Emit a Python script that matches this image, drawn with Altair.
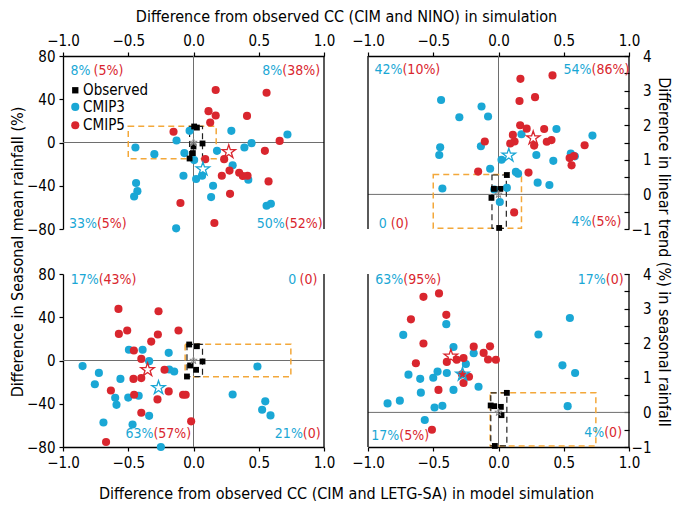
import altair as alt
import pandas as pd

FONT = "Liberation Sans Narrow, DejaVu Sans Condensed, Roboto, sans-serif"
CYAN = "#1aa7d5"
RED = "#d9262e"
ORANGE = "#f3a83a"
GREY = "#6e6e6e"
STAR = ("M0,-1L0.225,-0.309L0.951,-0.309L0.363,0.118L0.588,0.809L0,0.382"
        "L-0.588,0.809L-0.363,0.118L-0.951,-0.309L-0.225,-0.309Z")

# ---------------- axis ticks and titles ----------------
x_ticks = [-1.0, -0.5, 0.0, 0.5, 1.0]
rain_ticks = [-80, -40, 0, 40, 80]
trend_ticks = [-1, -0.5, 0, 0.5, 1, 1.5, 2, 2.5, 3, 3.5, 4]
title_top = "Difference from observed CC (CIM and NINO) in simulation"
title_bottom = "Difference from observed CC (CIM and LETG-SA) in model simulation"
title_left = "Difference in Seasonal mean rainfall (%)"
title_right = "Difference in linear trend (%) in seasonal rainfall"
legend_labels = ["Observed", "CMIP3", "CMIP5"]

# ---------------- top-left: CC (CIM & NINO) vs seasonal mean rainfall ----------------
tl_c3_x = [0.72, 0.29, 0.445, 0.39, 0.18, 0.30, 0.42, 0.15, 0.135, 0.066, 0.02, 0.005,
           -0.07, -0.13, -0.03, -0.077, -0.30, -0.445, -0.44, -0.43, -0.455, -0.133, 0.56, 0.593]
tl_c3_y = [7.4, 10.8, -0.6, -4.6, -7.7, -21, -34.5, -40, -50.5, -30.8, -33.8, -16.3,
           -9.8, 1.8, 10.8, -30.8, -10.8, -4.6, -37.5, -45, -50, -79.4, -58.5, -56.6]
tl_c5_x = [0.17, 0.56, 0.115, 0.17, 0.41, 0.128, -0.153, 0.66, 0.547, 0.235, 0.09, 0.276,
           0.217, 0.35, 0.378, 0.414, 0.575, 0.28, -0.10, 0.16]
tl_c5_y = [48.5, 46, 29, 25, 24.6, 18.5, 10, 1.5, -7.7, -15.4, -15.4, -26,
           -30.8, -28, -31, -30.8, -36, -47.5, -56, -74.5]
tl_obs_x = [0.005, 0.026, 0.069, 0.0, -0.005, -0.03]
tl_obs_y = [14.8, 13.8, -0.9, -3.7, -9.8, -14.8]
tl_star_x = [0.072, 0.27]
tl_star_y = [-24.6, -8.6]
tl_orange = [-0.5, 0.174, -15, 15]
tl_black = [-0.03, 0.069, -15, 15]
tl_ann_cyan = ["8%", "8%", "33%", "50%"]
tl_ann_red = ["(5%)", "(38%)", "(5%)", "(52%)"]

# ---------------- top-right: CC (CIM & NINO) vs linear trend ----------------
tr_c3_x = [-0.44, -0.13, -0.08, -0.30, 0.176, 0.444, 0.72, -0.447, -0.454, -0.135, 0.023, 0.29,
           0.42, 0.554, 0.585, -0.064, 0.133, 0.15, 0.30, 0.39, -0.43, -0.033, 0.064, 0.01]
tr_c3_y = [2.73, 2.54, 2.25, 2.23, 1.74, 1.89, 1.70, 1.36, 1.14, 1.39, 1.0, 1.14,
           0.97, 1.18, 1.1, 0.74, 0.65, 0.6, 0.34, 0.27, 0.17, 0.14, 0.19, -0.22]
tr_c5_x = [0.414, 0.168, 0.161, 0.28, 0.166, 0.216, 0.35, 0.11, -0.105, 0.123, 0.09, 0.273,
           0.37, 0.406, 0.66, 0.545, 0.578, 0.56, -0.156, 0.23, 0.12]
tr_c5_y = [3.44, 3.34, 2.70, 2.81, 2.0, 1.9, 1.89, 1.72, 1.53, 1.53, 1.47, 1.41,
           1.52, 1.57, 1.42, 1.05, 1.11, 0.84, 0.66, 0.63, -0.52]
tr_obs_x = [0.064, -0.035, 0.014, -0.054, 0.005]
tr_obs_y = [0.56, 0.16, 0.16, -0.1, -0.97]
tr_star_x = [0.079, 0.266]
tr_star_y = [1.13, 1.63]
tr_orange = [-0.5, 0.176, -0.98, 0.575]
tr_black = [-0.05, 0.06, -0.98, 0.56]
tr_ann_cyan = ["42%", "54%", "0", "4%"]
tr_ann_red = ["(10%)", "(86%)", "(0)", "(5%)"]

# ---------------- bottom-left: CC (CIM & LETG-SA) vs seasonal mean rainfall ----------------
bl_c3_x = [-0.85, -0.725, -0.756, -0.56, -0.495, -0.39, -0.34, -0.19, -0.186, -0.148,
           -0.60, -0.59, -0.50, -0.42, -0.69, -0.467, -0.34, -0.25, 0.49, 0.30, 0.55, 0.526, 0.59]
bl_c3_y = [-5.2, -11.5, -22, -17, 10, 10, -0.6, 7.1, -8.3, -10.2,
           -34.5, -41, -34.3, -32.6, -57.3, -59.2, -51.2, -80, -5.5, -31.4, -37.8, -45.5, -50.8]
bl_c5_x = [-0.575, -0.268, -0.572, -0.508, -0.273, -0.115, -0.324, -0.457, -0.40, -0.222, -0.46,
           -0.40, -0.633, -0.455, -0.276, -0.19, -0.08, -0.06, -0.40, -0.018, -0.67]
bl_c5_y = [47.7, 45.5, 24.6, 27.7, 24, 27.7, 17.5, 9.2, 1.5, -8.6, -17,
           -16.3, -27.7, -31.7, -36, -28.6, -31.7, -31.7, -48.3, -56.3, -75.4]
bl_obs_x = [-0.033, 0.026, 0.069, -0.026, 0.02, -0.05]
bl_obs_y = [14.8, 13.2, -0.9, -4.6, -8.6, -14.8]
bl_star_x = [-0.268, -0.352]
bl_star_y = [-25.2, -8.6]
bl_orange = [-0.064, 0.746, -15, 15]
bl_black = [-0.05, 0.069, -15, 15]
bl_ann_cyan = ["17%", "0", "63%", "21%"]
bl_ann_red = ["(43%)", "(0)", "(57%)", "(0)"]

# ---------------- bottom-right: CC (CIM & LETG-SA) vs linear trend ----------------
br_c3_x = [-0.73, -0.40, -0.345, -0.19, -0.25, -0.69, -0.60, -0.50, -0.467, -0.396, -0.595, -0.345,
           -0.153, -0.85, -0.756, -0.49, -0.43, -0.565, 0.306, 0.547, 0.49, 0.587, 0.53]
br_c3_y = [2.24, 2.55, 1.89, 1.71, 1.40, 1.09, 0.97, 1.0, 1.18, 1.14, 0.57, 0.65,
           0.74, 0.26, 0.34, 0.14, 0.19, -0.22, 2.25, 2.73, 1.36, 1.14, 0.18]
br_c5_x = [-0.575, -0.456, -0.40, -0.671, -0.575, -0.633, -0.19, -0.065, -0.114, -0.08,
           -0.02, -0.396, -0.32, -0.268, -0.28, -0.226, -0.268, -0.46, -0.51]
br_c5_y = [3.34, 3.44, 2.82, 2.69, 1.99, 1.42, 1.90, 1.91, 1.72, 1.53,
           1.52, 1.46, 1.52, 1.57, 1.10, 1.03, 0.85, 0.65, -0.50]
br_obs_x = [0.064, -0.033, 0.018, 0.023, -0.028, -0.06]
br_obs_y = [0.565, 0.18, 0.16, -0.08, -0.97, 0.2]
br_star_x = [-0.276, -0.365]
br_star_y = [1.10, 1.62]
br_orange = [-0.064, 0.746, -0.97, 0.565]
br_black = [-0.059, 0.064, -0.97, 0.565]
br_ann_cyan = ["63%", "17%", "17%", "4%"]
br_ann_red = ["(95%)", "(0)", "(5%)", "(0)"]

# ---------------- placement of the annotations (data units) ----------------
ann_pos = {
    "tl": dict(xc=[-0.79, 0.68, -0.74, 0.70], xr=[-0.766, 0.68, -0.74, 0.70], y=[66, 66, -75.4, -75.4]),
    "tr": dict(xc=[-0.736, 0.713, -0.856, 0.713], xr=[-0.736, 0.713, -0.825, 0.713], y=[3.59, 3.59, -0.86, -0.79]),
    "bl": dict(xc=[-0.727, 0.787, -0.307, 0.838], xr=[-0.727, 0.812, -0.307, 0.838], y=[74.5, 74.5, -67.8, -67.8]),
    "br": dict(xc=[-0.73, 0.822, -0.76, 0.81], xr=[-0.73, 0.822, -0.76, 0.81], y=[3.82, 3.82, -0.68, -0.60]),
}
legend_pos = dict(xm=-0.906, xt=-0.846, y=[48.3, 32.9, 16.0])

panels = [
    dict(key="tl", row=0, col=0, c3=(tl_c3_x, tl_c3_y), c5=(tl_c5_x, tl_c5_y), obs=(tl_obs_x, tl_obs_y),
         star=(tl_star_x, tl_star_y), orange=tl_orange, black=tl_black, ann=(tl_ann_cyan, tl_ann_red)),
    dict(key="tr", row=0, col=1, c3=(tr_c3_x, tr_c3_y), c5=(tr_c5_x, tr_c5_y), obs=(tr_obs_x, tr_obs_y),
         star=(tr_star_x, tr_star_y), orange=tr_orange, black=tr_black, ann=(tr_ann_cyan, tr_ann_red)),
    dict(key="bl", row=1, col=0, c3=(bl_c3_x, bl_c3_y), c5=(bl_c5_x, bl_c5_y), obs=(bl_obs_x, bl_obs_y),
         star=(bl_star_x, bl_star_y), orange=bl_orange, black=bl_black, ann=(bl_ann_cyan, bl_ann_red)),
    dict(key="br", row=1, col=1, c3=(br_c3_x, br_c3_y), c5=(br_c5_x, br_c5_y), obs=(br_obs_x, br_obs_y),
         star=(br_star_x, br_star_y), orange=br_orange, black=br_black, ann=(br_ann_cyan, br_ann_red)),
]

W, H = 261, 173


def panel(P):
    top = P["row"] == 0
    left = P["col"] == 0
    xs = alt.Scale(domain=[-1, 1], nice=False, zero=False)
    ys = alt.Scale(domain=[-80, 80] if left else [-1, 4], nice=False, zero=False)

    ax = dict(orient="top" if top else "bottom", values=x_ticks, format=".1f",
              tickSize=4, labelPadding=4, labelFlush=False, labelOverlap=False)
    xtitle = None
    if left:
        xtitle = title_top if top else title_bottom
        ax.update(titleX=283, titleY=-40 if top else 46, titleAlign="center", titleBaseline="middle")
    if left:
        ay = dict(orient="left", values=rain_ticks, tickSize=4, labelPadding=4, labelOverlap=False)
        ytitle = title_left if top else None
        if top:
            ay.update(titleX=-46, titleY=195.5, titleAngle=270, titleAlign="center", titleBaseline="middle")
    else:
        ay = dict(orient="right", values=trend_ticks, offset=-5, domain=False, tickSize=5,
                  labelPadding=22, labelAlign="right", labelOverlap=False, format="~g",
                  labelExpr="datum.value % 1 == 0 ? datum.label : ''")
        ytitle = title_right if top else None
        if top:
            ay.update(titleX=39, titleY=195.5, titleAngle=90, titleAlign="center", titleBaseline="middle")

    def X():
        return alt.X("x:Q", scale=xs, axis=alt.Axis(**ax), title=xtitle)

    def Y():
        return alt.Y("y:Q", scale=ys, axis=alt.Axis(**ay), title=ytitle)

    one = pd.DataFrame({"k": [0]})
    layers = []
    # zero lines
    layers.append(alt.Chart(pd.DataFrame({"x": [0.0]})).mark_rule(color=GREY, strokeWidth=1).encode(
        x=X(), y=alt.value(0 if top else -23), y2=alt.value(H + 23 if top else H)))
    layers.append(alt.Chart(pd.DataFrame({"y": [0.0]})).mark_rule(color=GREY, strokeWidth=1).encode(
        y=Y(), x=alt.value(0), x2=alt.value(W)))
    # boxes
    o = P["orange"]
    layers.append(alt.Chart(pd.DataFrame({"x": [o[0]], "x2": [o[1]], "y": [o[2]], "y2": [o[3]]}))
                  .mark_rect(filled=False, stroke=ORANGE, strokeWidth=1.5, strokeDash=[6, 4])
                  .encode(x=X(), x2=alt.X2("x2"), y=Y(), y2=alt.Y2("y2")))
    b = P["black"]
    layers.append(alt.Chart(pd.DataFrame({"x": [b[0]], "x2": [b[1]], "y": [b[2]], "y2": [b[3]]}))
                  .mark_rect(filled=False, stroke="#222222", strokeWidth=1.2, strokeDash=[6, 4])
                  .encode(x=X(), x2=alt.X2("x2"), y=Y(), y2=alt.Y2("y2")))
    # model points
    layers.append(alt.Chart(pd.DataFrame({"x": P["c3"][0], "y": P["c3"][1]}))
                  .mark_circle(size=66, color=CYAN, opacity=1).encode(x=X(), y=Y()))
    layers.append(alt.Chart(pd.DataFrame({"x": P["c5"][0], "y": P["c5"][1]}))
                  .mark_circle(size=66, color=RED, opacity=1).encode(x=X(), y=Y()))
    # observed
    layers.append(alt.Chart(pd.DataFrame({"x": P["obs"][0], "y": P["obs"][1]}))
                  .mark_square(size=34, color="black", opacity=1).encode(x=X(), y=Y()))
    layers.append(alt.Chart(pd.DataFrame({"x": [0.0], "y": [0.0]}))
                  .mark_point(shape=STAR, size=60, color="#8a8a8a", filled=False, strokeWidth=1, opacity=1)
                  .encode(x=X(), y=Y()))
    # ensemble-mean stars
    sx, sy = P["star"]
    layers.append(alt.Chart(pd.DataFrame({"x": [sx[0]], "y": [sy[0]]}))
                  .mark_point(shape=STAR, size=200, color=CYAN, filled=False, strokeWidth=1.3, opacity=1)
                  .encode(x=X(), y=Y()))
    layers.append(alt.Chart(pd.DataFrame({"x": [sx[1]], "y": [sy[1]]}))
                  .mark_point(shape=STAR, size=200, color=RED, filled=False, strokeWidth=1.3, opacity=1)
                  .encode(x=X(), y=Y()))
    # frame lines without ticks
    for xv in ([W] if left else [0, W]):
        layers.append(alt.Chart(one).mark_rule(color="black", strokeWidth=1.3).encode(
            x=alt.value(xv), y=alt.value(0), y2=alt.value(H)))
    # percentage annotations
    A = ann_pos[P["key"]]
    cy, rd = P["ann"]
    layers.append(alt.Chart(pd.DataFrame({"x": A["xc"], "y": A["y"], "t": cy}))
                  .mark_text(align="right", baseline="middle", fontSize=14, color=CYAN, font=FONT)
                  .encode(x=X(), y=Y(), text="t:N"))
    layers.append(alt.Chart(pd.DataFrame({"x": A["xr"], "y": A["y"], "t": rd}))
                  .mark_text(align="left", baseline="middle", fontSize=14, color=RED, font=FONT)
                  .encode(x=X(), y=Y(), text="t:N"))
    # legend (top-left panel only)
    if P["key"] == "tl":
        ly = legend_pos["y"]
        layers.append(alt.Chart(pd.DataFrame({"x": [legend_pos["xm"]], "y": [ly[0]]}))
                      .mark_square(size=40, color="black", opacity=1).encode(x=X(), y=Y()))
        layers.append(alt.Chart(pd.DataFrame({"x": [legend_pos["xm"]], "y": [ly[1]]}))
                      .mark_circle(size=66, color=CYAN, opacity=1).encode(x=X(), y=Y()))
        layers.append(alt.Chart(pd.DataFrame({"x": [legend_pos["xm"]], "y": [ly[2]]}))
                      .mark_circle(size=66, color=RED, opacity=1).encode(x=X(), y=Y()))
        layers.append(alt.Chart(pd.DataFrame({"x": [legend_pos["xt"]] * 3, "y": ly, "t": legend_labels}))
                      .mark_text(align="left", baseline="middle", fontSize=15, color="black", font=FONT)
                      .encode(x=X(), y=Y(), text="t:N"))
    return alt.layer(*layers).properties(width=W, height=H)


chart = (
    alt.concat(*[panel(P) for P in panels], columns=2,
               spacing={"row": 45, "column": 44}, bounds="flush")
    .properties(padding={"left": 0, "top": 0, "right": 4, "bottom": 0})
    .configure(font=FONT)
    .configure_view(stroke=None)
    .configure_axis(labelFont=FONT, titleFont=FONT, labelFontSize=15, titleFontSize=16,
                    titleFontWeight="normal", labelColor="black", titleColor="black",
                    domainColor="black", tickColor="black", domainWidth=1.3, tickWidth=1.2,
                    grid=False)
)

chart.save("out.html", embed_options={"renderer": "svg", "actions": False})
